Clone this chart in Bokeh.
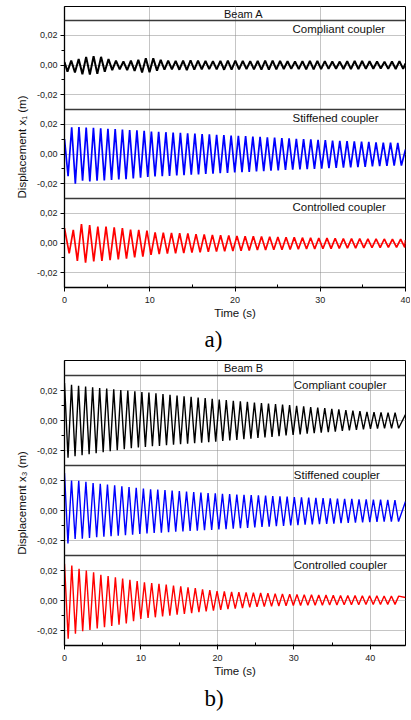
import numpy as np
from bokeh.plotting import figure
from bokeh.models import Range1d, FixedTicker, Span, Title, ColumnDataSource
from bokeh.layouts import column
from bokeh.embed import file_html
from bokeh.resources import INLINE
from bokeh.core.properties import value

FONT = "Liberation Sans"

# ---------------- data ----------------
sub_names = ["Compliant coupler", "Stiffened coupler", "Controlled coupler"]
colors = ["#000000", "#0000ff", "#ff0000"]
y_tick_values = [-0.02, 0.0, 0.02]
y_tick_labels = ["-0,02", "0,00", "0,02"]
y_minor_values = [-0.01, 0.01]

# ----- Beam A (x1) -----
a_title = "Beam A"
a_ylabel = "Displacement x\u2081 (m)"
a_caption = "a)"
a_x_ticks = [0, 10, 20, 30, 40]
a_x_minor = [5, 15, 25, 35]
a_t_end = 40
a_start = [0.002, 0.010, 0.010]      # value at t = 0
a_end = [0.001, 0.003, 0.002]        # value at t = end
a_period = [0.875, 0.85, 0.96]       # oscillation period (s)
a_first_trough = [0.35, 0.42, 0.55]  # time of first minimum (s)

a_comp_peaks = [0.003, 0.004, 0.0055, 0.006, 0.0055, 0.004, 0.003, 0.0025, 0.003, 0.0035,
                0.0045, 0.0045, 0.0035, 0.003, 0.0028, 0.003, 0.0032, 0.003, 0.0028, 0.0026,
                0.0028, 0.003, 0.003, 0.0028, 0.0026, 0.0027, 0.0029, 0.003, 0.0028, 0.0025,
                0.0024, 0.0026, 0.0028, 0.0028, 0.0026, 0.0024, 0.0023, 0.0025, 0.0027, 0.0027,
                0.0025, 0.0023, 0.0022, 0.0024, 0.0026]
a_comp_troughs = [-0.0045, -0.005, -0.0062, -0.0065, -0.006, -0.0045, -0.0035, -0.003, -0.0035, -0.004,
                  -0.005, -0.0048, -0.0038, -0.0032, -0.003, -0.0032, -0.0034, -0.0032, -0.003, -0.0028,
                  -0.003, -0.0032, -0.0032, -0.003, -0.0028, -0.0029, -0.0031, -0.0031, -0.0029, -0.0027,
                  -0.0026, -0.0028, -0.003, -0.003, -0.0028, -0.0026, -0.0025, -0.0027, -0.0028, -0.0028,
                  -0.0026, -0.0025, -0.0024, -0.0026, -0.0027, -0.0026]
a_stif_peaks = [0.018, 0.0182, 0.0178, 0.0176, 0.0174, 0.017, 0.0168, 0.0165, 0.0162, 0.016,
                0.0156, 0.0152, 0.015, 0.0147, 0.0145, 0.0142, 0.014, 0.0138, 0.0135, 0.0133,
                0.013, 0.0128, 0.0125, 0.0122, 0.012, 0.0118, 0.0115, 0.0112, 0.011, 0.0108,
                0.0105, 0.0102, 0.01, 0.0098, 0.0095, 0.0093, 0.0091, 0.0089, 0.0087, 0.0085,
                0.0083, 0.0081, 0.0079, 0.0077, 0.0076, 0.0075]
a_stif_troughs = [-0.015, -0.020, -0.018, -0.0185, -0.018, -0.0178, -0.0175, -0.0172, -0.017, -0.0165,
                  -0.016, -0.0155, -0.0152, -0.015, -0.0147, -0.0145, -0.0142, -0.014, -0.0138, -0.0135,
                  -0.0132, -0.013, -0.0127, -0.0124, -0.0122, -0.012, -0.0117, -0.0115, -0.0112, -0.011,
                  -0.0108, -0.0106, -0.0104, -0.0102, -0.01, -0.0098, -0.0096, -0.0094, -0.0092, -0.009,
                  -0.0088, -0.0086, -0.0084, -0.0082, -0.008, -0.0079, -0.0078]
a_ctrl_peaks = [0.0088, 0.0128, 0.012, 0.011, 0.011, 0.0105, 0.010, 0.009, 0.0088, 0.0083,
                0.0072, 0.007, 0.0068, 0.0066, 0.0064, 0.006, 0.0058, 0.0055, 0.0052, 0.005,
                0.0048, 0.0046, 0.0045, 0.0044, 0.0042, 0.004, 0.0039, 0.0038, 0.0036, 0.0035,
                0.0034, 0.0033, 0.0032, 0.003, 0.003, 0.0029, 0.0028, 0.0028, 0.0027, 0.0026,
                0.0026]
a_ctrl_troughs = [-0.007, -0.012, -0.0133, -0.0124, -0.012, -0.0115, -0.011, -0.0105, -0.0097, -0.0092,
                  -0.008, -0.0075, -0.0072, -0.007, -0.0068, -0.0065, -0.0063, -0.006, -0.0058, -0.0056,
                  -0.0054, -0.0052, -0.005, -0.0048, -0.0047, -0.0046, -0.0045, -0.0044, -0.0042, -0.0041,
                  -0.004, -0.0039, -0.0038, -0.0036, -0.0035, -0.0034, -0.0033, -0.0032, -0.0031, -0.003,
                  -0.003, -0.0029]

# ----- Beam B (x3) -----
b_title = "Beam B"
b_ylabel = "Displacement x\u2083 (m)"
b_caption = "b)"
b_x_ticks = [0, 10, 20, 30, 40]
b_x_minor = [5, 15, 25, 35]
b_t_end = 44.6
b_start = [0.025, 0.025, 0.0245]
b_end = [0.004, 0.006, 0.002]
b_period = [0.92, 0.94, 0.95]
b_first_trough = [0.46, 0.45, 0.48]

b_comp_peaks = [0.0238, 0.0232, 0.0226, 0.0222, 0.0217, 0.0213, 0.0208, 0.0203, 0.0199, 0.0194,
                0.019, 0.0186, 0.0181, 0.0176, 0.0172, 0.0167, 0.0162, 0.0158, 0.0153, 0.0149,
                0.0144, 0.014, 0.0136, 0.0132, 0.0128, 0.0124, 0.012, 0.0117, 0.0113, 0.011,
                0.0106, 0.0102, 0.0098, 0.0094, 0.009, 0.0086, 0.0082, 0.0078, 0.0074, 0.007,
                0.0066, 0.0062, 0.0058, 0.0056, 0.0054, 0.0053, 0.0052]
b_comp_troughs = [-0.0248, -0.0238, -0.0231, -0.0225, -0.0218, -0.0211, -0.0205, -0.0198, -0.0192, -0.0185,
                  -0.018, -0.0176, -0.0172, -0.0169, -0.0165, -0.0162, -0.0158, -0.0155, -0.0151, -0.0148,
                  -0.0144, -0.0141, -0.0137, -0.0133, -0.0129, -0.0125, -0.0121, -0.0117, -0.0113, -0.0109,
                  -0.0104, -0.01, -0.0096, -0.0092, -0.0088, -0.0085, -0.0081, -0.0077, -0.0074, -0.007,
                  -0.0066, -0.0063, -0.0059, -0.0055, -0.0054, -0.0053, -0.0052, -0.0052]
b_stif_peaks = [0.0200, 0.0198, 0.0192, 0.0183, 0.0178, 0.0173, 0.0168, 0.0162, 0.0157, 0.0151,
                0.0146, 0.0142, 0.0139, 0.0136, 0.0133, 0.013, 0.0127, 0.0123, 0.012, 0.0117,
                0.0114, 0.0111, 0.0109, 0.0107, 0.0105, 0.0103, 0.0101, 0.0099, 0.0096, 0.0094,
                0.0092, 0.0089, 0.0087, 0.0086, 0.0084, 0.0083, 0.0081, 0.008, 0.0078, 0.0077,
                0.0075, 0.0074, 0.0073, 0.0072, 0.0071, 0.0070]
b_stif_troughs = [-0.022, -0.019, -0.0188, -0.0183, -0.0178, -0.0175, -0.0172, -0.0168, -0.0165, -0.0161,
                  -0.0156, -0.0153, -0.015, -0.0148, -0.0145, -0.0142, -0.014, -0.0137, -0.0134, -0.0132,
                  -0.0129, -0.0127, -0.0124, -0.0121, -0.0118, -0.0116, -0.0113, -0.011, -0.0107, -0.0104,
                  -0.0102, -0.0099, -0.0097, -0.0095, -0.0093, -0.0091, -0.0089, -0.0087, -0.0085, -0.0083,
                  -0.0081, -0.0079, -0.0077, -0.0076, -0.0075, -0.0074, -0.0074]
b_ctrl_peaks = [0.0233, 0.0212, 0.0200, 0.0188, 0.0172, 0.0163, 0.0155, 0.0147, 0.0138, 0.0129,
                0.0122, 0.0117, 0.0111, 0.0106, 0.01, 0.0095, 0.0088, 0.0082, 0.0075, 0.0069,
                0.0062, 0.006, 0.0058, 0.0056, 0.0054, 0.0052, 0.005, 0.0048, 0.0046, 0.0044,
                0.0042, 0.004, 0.0039, 0.0038, 0.0037, 0.0036, 0.0035, 0.0034, 0.0033, 0.0033,
                0.0032, 0.0031, 0.0031, 0.003, 0.003, 0.0029]
b_ctrl_troughs = [-0.0255, -0.0222, -0.0205, -0.0196, -0.0186, -0.0178, -0.017, -0.0162, -0.0153, -0.0138,
                  -0.0123, -0.0117, -0.0112, -0.0106, -0.0101, -0.0095, -0.009, -0.0084, -0.0078, -0.0073,
                  -0.0067, -0.0063, -0.0058, -0.0054, -0.005, -0.0046, -0.0042, -0.0041, -0.0039, -0.0037,
                  -0.0035, -0.0033, -0.0033, -0.0032, -0.0031, -0.0031, -0.003, -0.003, -0.0029, -0.0029,
                  -0.0028, -0.0027, -0.0027, -0.0027, -0.0026, -0.0026]

a_peaks = [a_comp_peaks, a_stif_peaks, a_ctrl_peaks]
a_troughs = [a_comp_troughs, a_stif_troughs, a_ctrl_troughs]
b_peaks = [b_comp_peaks, b_stif_peaks, b_ctrl_peaks]
b_troughs = [b_comp_troughs, b_stif_troughs, b_ctrl_troughs]

# ---------------- layout constants (pixels) ----------------
FIG_W = 410
BORDER_L = 64
SUB_SPAN = 0.06   # each stacked panel spans -0.03..0.03


def series(start, end, t_end, period, first_trough, peaks, troughs):
    kt = np.arange(len(troughs))
    kp = np.arange(len(peaks))
    t_tr = first_trough + period * kt
    t_pk = first_trough + period / 2.0 + period * kp
    t = np.concatenate([[0.0], t_tr, t_pk, [t_end]])
    y = np.concatenate([[start], troughs, peaks, [end]])
    order = np.argsort(t, kind="stable")
    t, y = t[order], y[order]
    keep = t <= t_end
    return t[keep], y[keep]


def make_group(fig_h, border_top, border_right, header_px, sub_px, t_end, x_ticks, x_minor,
               title, ylabel, caption, starts, ends, periods, firsts, peaks, troughs,
               widths, name_left_px, name_drop_px, title_frac, caption_offset, caption_standoff):
    px_per_unit = sub_px / SUB_SPAN
    header_h = header_px / px_per_unit
    top = 0.15 + header_h
    frame_h = header_px + 3 * sub_px
    border_bottom = fig_h - border_top - frame_h
    frame_w = FIG_W - BORDER_L - border_right
    px_per_s = frame_w / t_end

    p = figure(width=FIG_W, height=fig_h, title=None,
               x_range=Range1d(0, t_end), y_range=Range1d(-0.03, top),
               output_backend="svg", toolbar_location=None,
               min_border_left=BORDER_L, min_border_right=border_right,
               min_border_top=border_top, min_border_bottom=border_bottom)
    p.background_fill_color = "white"
    p.border_fill_color = "white"
    p.outline_line_color = "#000000"
    p.outline_line_width = 1

    offsets = [0.12, 0.06, 0.0]
    ticks, minors, overrides = [], [], {}
    for off in offsets:
        for v, lab in zip(y_tick_values, y_tick_labels):
            tv = round(v + off, 6)
            ticks.append(tv)
            overrides[tv] = lab
        for v in y_minor_values:
            minors.append(round(v + off, 6))

    p.yaxis.ticker = FixedTicker(ticks=ticks, minor_ticks=minors)
    p.yaxis.major_label_overrides = overrides
    p.xaxis.ticker = FixedTicker(ticks=x_ticks, minor_ticks=x_minor)

    for ax in (p.xaxis[0], p.yaxis[0]):
        ax.axis_line_color = "#000000"
        ax.axis_line_width = 1.3
        ax.major_tick_line_color = "#000000"
        ax.minor_tick_line_color = "#000000"
        ax.major_label_text_font = FONT
        ax.major_label_text_font_size = "9px"
        ax.major_label_text_color = "#222222"
        ax.axis_label_text_font = FONT
        ax.axis_label_text_font_size = "11.5px"
        ax.axis_label_text_font_style = "normal"
        ax.axis_label_text_color = "#111111"
    p.yaxis.major_tick_out = 4
    p.yaxis.major_tick_in = 0
    p.yaxis.minor_tick_out = 3
    p.yaxis.minor_tick_in = 0
    p.yaxis.major_label_standoff = 3
    p.yaxis.axis_label = ylabel
    p.yaxis.axis_label_standoff = 6
    p.xaxis.major_tick_out = 4
    p.xaxis.major_tick_in = 1
    p.xaxis.minor_tick_out = 0
    p.xaxis.minor_tick_in = 3
    p.xaxis.major_label_standoff = 5
    p.xaxis.axis_label = "Time (s)"
    p.xaxis.axis_label_standoff = 1

    for g in (p.xgrid[0], p.ygrid[0]):
        g.grid_line_color = "#8a8a8a"
        g.grid_line_dash = "1 1"
        g.grid_line_width = 1

    # panel separators and header line
    for loc in (0.03, 0.09, 0.15):
        p.add_layout(Span(location=loc, dimension="width", line_color="#3a3a3a", line_width=1.6))

    # traces
    for i, off in enumerate(offsets):
        t, y = series(starts[i], ends[i], t_end, periods[i], firsts[i], peaks[i], troughs[i])
        src = ColumnDataSource(dict(t=t, y=y + off))
        p.line("t", "y", source=src, line_color=colors[i], line_width=widths[i])

    # panel names
    name_x = [name_left_px / px_per_s] * 3
    name_y = [off + 0.03 - name_drop_px / px_per_unit for off in offsets]
    p.text(x=name_x, y=name_y, text=sub_names, text_font=value(FONT),
           text_font_size="11.5px", text_align="left", text_baseline="middle",
           text_color="#111111")
    # header
    p.text(x=[title_frac * t_end], y=[0.15 + header_h / 2.0], text=[title],
           text_font=value(FONT), text_font_size="11px", text_align="center",
           text_baseline="middle", text_color="#111111")

    # caption below the axis
    cap = Title(text=caption, align="left", offset=caption_offset, standoff=caption_standoff,
                text_font="Liberation Serif", text_font_size="23px",
                text_font_style="normal", text_color="#000000")
    p.add_layout(cap, "below")
    return p


pa = make_group(fig_h=356, border_top=6, border_right=5, header_px=14, sub_px=89, t_end=a_t_end,
                x_ticks=a_x_ticks, x_minor=a_x_minor, title=a_title, ylabel=a_ylabel,
                caption=a_caption, starts=a_start, ends=a_end, periods=a_period,
                firsts=a_first_trough, peaks=a_peaks, troughs=a_troughs,
                widths=[2.0, 1.7, 1.7], name_left_px=228, name_drop_px=8.5,
                title_frac=0.525, caption_offset=140, caption_standoff=6)

pb = make_group(fig_h=362, border_top=4, border_right=1, header_px=15, sub_px=90, t_end=b_t_end,
                x_ticks=b_x_ticks, x_minor=b_x_minor, title=b_title, ylabel=b_ylabel,
                caption=b_caption, starts=b_start, ends=b_end, periods=b_period,
                firsts=b_first_trough, peaks=b_peaks, troughs=b_troughs,
                widths=[1.4, 1.4, 1.4], name_left_px=232, name_drop_px=9,
                title_frac=0.525, caption_offset=140, caption_standoff=9)

layout = column(pa, pb, spacing=0)
open("out.html", "w").write(file_html(layout, INLINE))
